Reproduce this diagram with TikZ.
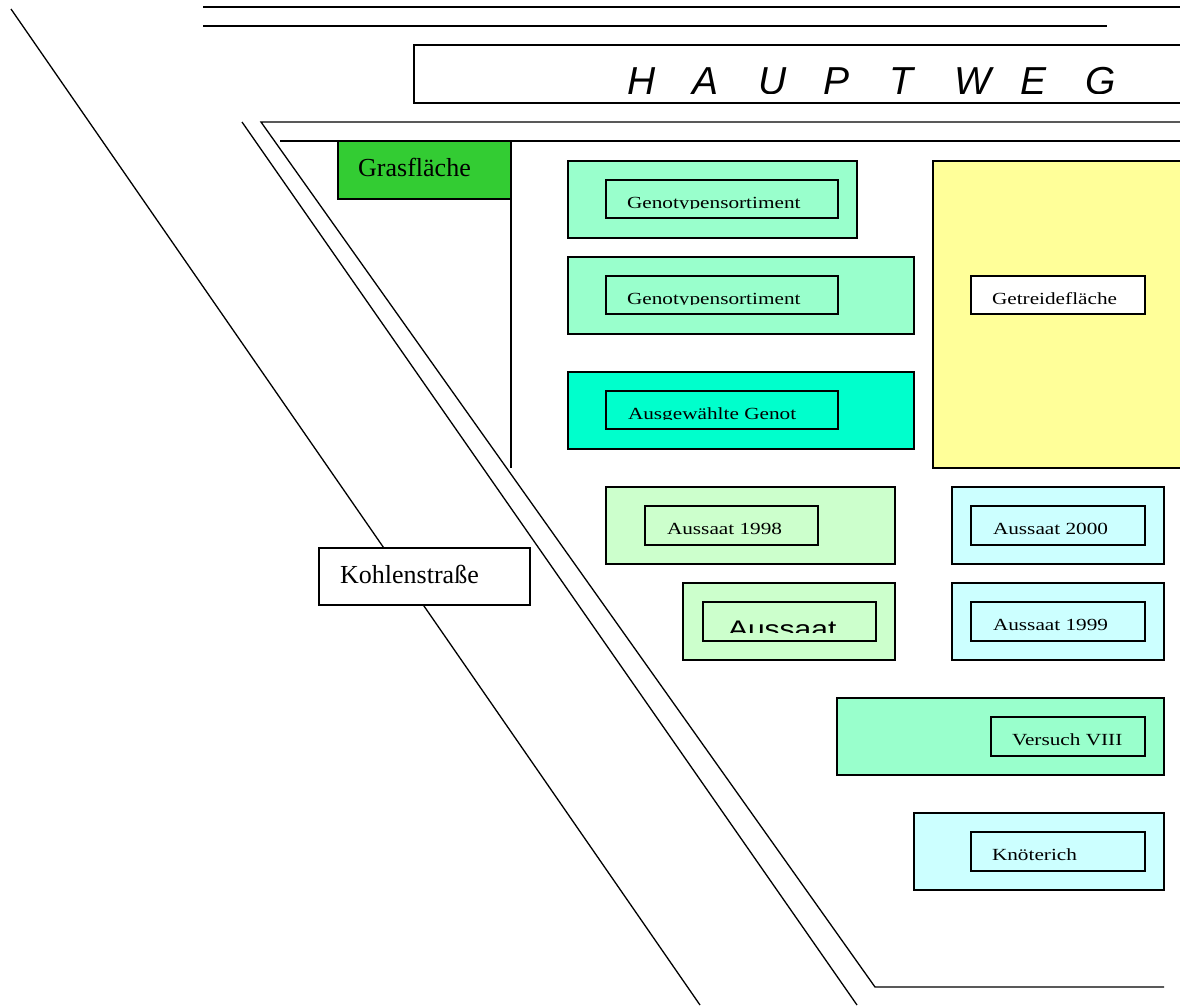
\documentclass[tikz,border=0pt]{standalone}
\usepackage{fontspec}
\setmainfont{Liberation Serif}
\newfontfamily\armfont{Liberation Sans}
\definecolor{mint}{HTML}{99FFCC}
\definecolor{teal}{HTML}{00FFCC}
\definecolor{straw}{HTML}{FFFF99}
\definecolor{palegreen}{HTML}{CCFFCC}
\definecolor{palecyan}{HTML}{CCFFFF}
\definecolor{grass}{HTML}{33CC33}
% small plot labels: serif, slightly widened
\newcommand\lab[1]{\scalebox{1.25}[1]{\fontsize{17}{20}\selectfont #1}}
% label set inside an inner frame, cut off at its baseline
\newcommand\cutlabel[4]{%
  \begin{scope}
    \clip (#1.north west) rectangle ++(#2,28.5);
    \node[lbl] at ([xshift=#3pt,yshift=-28pt]#1.north west) {#4};
  \end{scope}}
\begin{document}
\begin{tikzpicture}[x=1pt,y=-1pt,
  road/.style={line width=1.3pt},
  plot/.style={draw, line width=1.6pt, anchor=north west, inner sep=0pt, outer sep=0pt},
  frame/.style={draw, line width=1.5pt, anchor=north west, inner sep=0pt, outer sep=0pt},
  lbl/.style={anchor=base west, inner sep=0pt, outer sep=0pt},
  big/.style={anchor=base west, inner sep=0pt, font=\fontsize{26}{30}\selectfont}]
\clip (0,0) rectangle (1180,1005);
\fill[white] (0,0) rectangle (1180,1005);

% paths and roads
\draw[road] (203,7) -- (1180,7);
\draw[road] (203,26) -- (1107,26);
\draw[road] (11,9) -- (700,1005);
\draw[road] (242,122) -- (857,1005);
\draw[road] (1180,122) -- (261,122) -- (875,987) -- (1164,987);
\draw[road] (280,141) -- (1180,141);

% main path label
\node[frame, minimum width=800pt, minimum height=58pt] (haupt) at (414,45) {};
\begin{scope}
  \clip (414,45) rectangle (1180,93.5);
  \node[anchor=base west, inner sep=0pt] (hauptlbl) at (627,94)
    {\armfont\itshape\fontsize{39}{44}\selectfont
     \makebox[65.5pt][l]{H}\makebox[65.5pt][l]{A}\makebox[65.5pt][l]{U}\makebox[65.5pt][l]{P}%
     \makebox[65.5pt][l]{T}\makebox[65.5pt][l]{W}\makebox[65.5pt][l]{E}G};
\end{scope}

% grass strip with its border line
\node[plot, fill=grass, minimum width=173pt, minimum height=58pt] (gras) at (338,141) {};
\node[big] at (358,176) {Grasfläche};
\coordinate (grasend) at (511,468);
\draw[road] (gras.south east) -- (gras.south east |- grasend);

% road name
\node[plot, fill=white, line width=1.4pt, minimum width=211pt, minimum height=57pt] (kohle) at (319,548) {};
\node[big] at (340,583) {Kohlenstraße};

% genotype collections
\node[plot, fill=mint, minimum width=289pt, minimum height=77pt] (g1) at (568,161) {};
\node[frame, minimum width=232pt, minimum height=38pt] (g1i) at (606,180) {};
\cutlabel{g1i}{232}{21}{\lab{Genotypensortiment}}

\node[plot, fill=mint, minimum width=346pt, minimum height=77pt] (g2) at (568,257) {};
\node[frame, minimum width=232pt, minimum height=38pt] (g2i) at (606,276) {};
\cutlabel{g2i}{232}{21}{\lab{Genotypensortiment}}

\node[plot, fill=teal, minimum width=346pt, minimum height=77pt] (g3) at (568,372) {};
\node[frame, minimum width=232pt, minimum height=38pt] (g3i) at (606,391) {};
\cutlabel{g3i}{232}{22}{\lab{Ausgewählte Genot}}

% cereal field
\node[plot, fill=straw, minimum width=300pt, minimum height=307pt] (getr) at (933,161) {};
\node[frame, fill=white, minimum width=174pt, minimum height=38pt] (getri) at (971,276) {};
\cutlabel{getri}{174}{21}{\lab{Getreidefläche}}

% sowing plots
\node[plot, fill=palegreen, minimum width=289pt, minimum height=77pt] (a98) at (606,487) {};
\node[frame, minimum width=173pt, minimum height=39pt] (a98i) at (645,506) {};
\cutlabel{a98i}{173}{22}{\lab{Aussaat 1998}}

\node[plot, fill=palegreen, minimum width=212pt, minimum height=77pt] (ax) at (683,583) {};
\node[frame, minimum width=173pt, minimum height=39pt] (axi) at (703,602) {};
\begin{scope}
  \clip (axi.north west) rectangle ++(173,30);
  \node[lbl] at ([xshift=25pt,yshift=-35pt]axi.north west)
    {\scalebox{1.25}[1]{\armfont\fontsize{24}{28}\selectfont Aussaat}};
\end{scope}

\node[plot, fill=palecyan, minimum width=212pt, minimum height=77pt] (a00) at (952,487) {};
\node[frame, minimum width=174pt, minimum height=39pt] (a00i) at (971,506) {};
\cutlabel{a00i}{174}{22}{\lab{Aussaat 2000}}

\node[plot, fill=palecyan, minimum width=212pt, minimum height=77pt] (a99) at (952,583) {};
\node[frame, minimum width=174pt, minimum height=39pt] (a99i) at (971,602) {};
\cutlabel{a99i}{174}{22}{\lab{Aussaat 1999}}

% trial VIII and knotweed
\node[plot, fill=mint, minimum width=327pt, minimum height=77pt] (v8) at (837,698) {};
\node[frame, minimum width=154pt, minimum height=39pt] (v8i) at (991,717) {};
\cutlabel{v8i}{154}{21}{\lab{Versuch VIII}}

\node[plot, fill=palecyan, minimum width=250pt, minimum height=77pt] (kn) at (914,813) {};
\node[frame, minimum width=174pt, minimum height=39pt] (kni) at (971,832) {};
\cutlabel{kni}{174}{21}{\lab{Knöterich}}
\end{tikzpicture}
\end{document}
